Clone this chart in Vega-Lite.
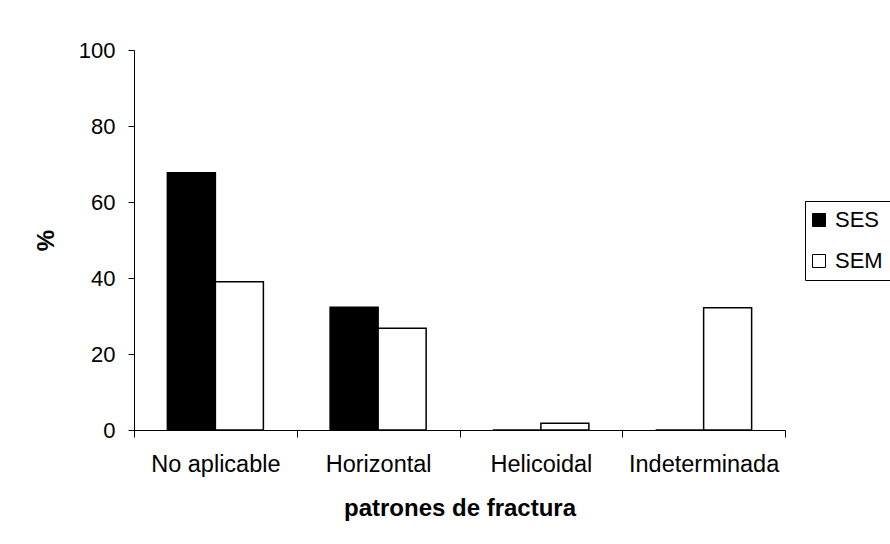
{
  "$schema": "https://vega.github.io/schema/vega-lite/v6.json",
  "autosize": {"type": "none"},
  "padding": {"left": 134, "top": 50, "right": 105, "bottom": 114},
  "width": 651,
  "height": 380,
  "background": "white",
  "data": {
    "values": [
      {"patron": "No aplicable", "serie": "SES", "valor": 67.7},
      {"patron": "No aplicable", "serie": "SEM", "valor": 39.0},
      {"patron": "Horizontal", "serie": "SES", "valor": 32.3},
      {"patron": "Horizontal", "serie": "SEM", "valor": 26.8},
      {"patron": "Helicoidal", "serie": "SES", "valor": 0},
      {"patron": "Helicoidal", "serie": "SEM", "valor": 1.8},
      {"patron": "Indeterminada", "serie": "SES", "valor": 0},
      {"patron": "Indeterminada", "serie": "SEM", "valor": 32.2}
    ]
  },
  "mark": {"type": "bar", "stroke": "black", "strokeWidth": 1.5},
  "encoding": {
    "x": {
      "field": "patron",
      "type": "nominal",
      "sort": ["No aplicable", "Horizontal", "Helicoidal", "Indeterminada"],
      "scale": {"paddingInner": 0, "paddingOuter": 0},
      "title": "patrones de fractura",
      "axis": {
        "labelAngle": 0,
        "tickBand": "extent",
        "tickSize": 7,
        "labelPadding": 15,
        "labelFontSize": 23.5,
        "titlePadding": 21
      }
    },
    "xOffset": {
      "field": "serie",
      "type": "nominal",
      "sort": ["SES", "SEM"],
      "scale": {"paddingInner": 0, "paddingOuter": 0.695}
    },
    "y": {
      "field": "valor",
      "type": "quantitative",
      "scale": {"domain": [0, 100], "nice": false},
      "title": "%",
      "axis": {
        "values": [0, 20, 40, 60, 80, 100],
        "grid": false,
        "tickSize": 6,
        "labelPadding": 13,
        "titlePadding": 20
      }
    },
    "color": {
      "field": "serie",
      "type": "nominal",
      "scale": {"domain": ["SES", "SEM"], "range": ["black", "white"]},
      "legend": {
        "title": null,
        "orient": "none",
        "legendX": 671,
        "legendY": 151,
        "symbolType": "square",
        "symbolSize": 169,
        "symbolStrokeColor": "black",
        "symbolStrokeWidth": 1,
        "symbolOpacity": 1,
        "symbolOffset": -5,
        "labelOffset": 5,
        "rowPadding": 19,
        "padding": 8,
        "strokeColor": "black",
        "fillColor": "white"
      }
    }
  },
  "config": {
    "font": "Liberation Sans",
    "view": {"stroke": null},
    "axis": {
      "domainColor": "black",
      "tickColor": "black",
      "labelColor": "black",
      "titleColor": "black",
      "labelFont": "Liberation Sans",
      "titleFont": "Liberation Sans",
      "labelFontSize": 22,
      "titleFontSize": 24,
      "titleFontWeight": "bold",
      "domainWidth": 1,
      "tickWidth": 1
    },
    "legend": {
      "labelFont": "Liberation Sans",
      "labelFontSize": 22,
      "labelColor": "black"
    }
  }
}
